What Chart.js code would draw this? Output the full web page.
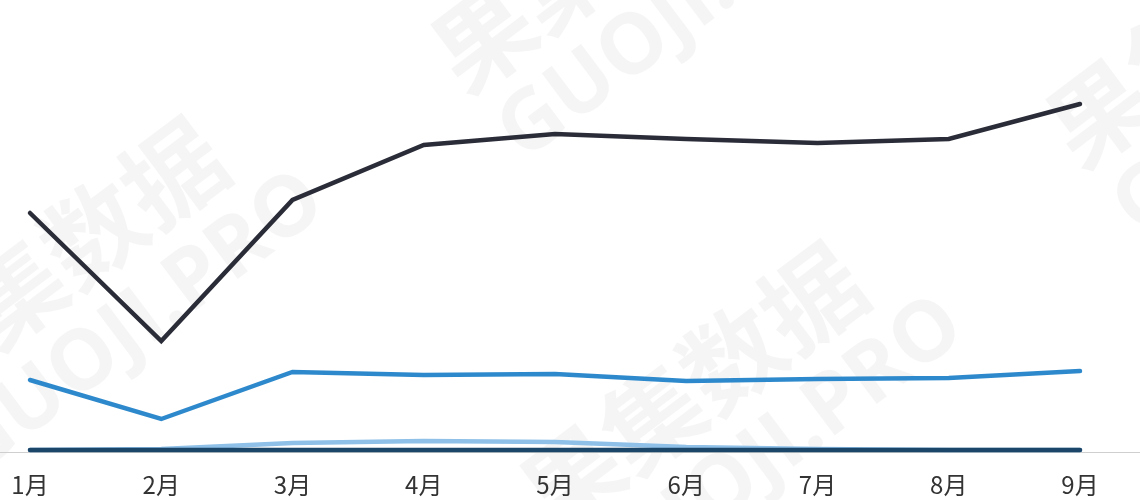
<!DOCTYPE html>
<html>
<head>
<meta charset="utf-8">
<script src="https://cdn.jsdelivr.net/npm/chart.js@4.4.0/dist/chart.umd.min.js"></script>
<style>
  html, body { margin: 0; padding: 0; background: #fff; }
  #wrap { width: 1140px; height: 500px; position: relative; }
</style>
</head>
<body>
<div id="wrap"><canvas id="myChart"></canvas></div>
<script>
// data
const months = ['1月', '2月', '3月', '4月', '5月', '6月', '7月', '8月', '9月'];
const seriesDark = [237, 109, 250, 305, 316, 311, 307, 311, 346];
const seriesBlue = [70, 31, 78, 75, 76, 69, 71, 72, 79];
const seriesLight = [0, 1, 7, 9, 8, 3, 1, 0, 0];
const seriesNavy = [0, 0, 0, 0, 0, 0, 0, 0, 0];

const watermarkLines = ['果集数据', 'GUOJI.PRO'];

// faint tiled watermark behind the lines
const watermark = {
    id: 'watermark',
    beforeDraw(chart) {
        const c = chart.ctx;
        const spots = [[53, 263], [603, -53], [692, 388], [1218, 22]];
        c.save();
        c.fillStyle = 'rgba(0, 0, 0, 0.04)';
        c.textAlign = 'center';
        c.textBaseline = 'middle';
        spots.forEach(function (p) {
            c.save();
            c.translate(p[0], p[1]);
            c.rotate(-37 * Math.PI / 180);
            c.font = 'bold 100px "Noto Sans CJK SC"';
            c.fillText(watermarkLines[0], 0, 0);
            c.font = 'bold 84px "Open Sans"';
            c.fillText(watermarkLines[1], 30, 100);
            c.restore();
        });
        c.restore();
    }
};

// thin grey baseline across the whole width
const baseline = {
    id: 'baseline',
    beforeDatasetsDraw(chart) {
        const c = chart.ctx;
        const y = chart.chartArea.bottom + 2.5;
        c.save();
        c.strokeStyle = '#cfcfcf';
        c.lineWidth = 1;
        c.beginPath();
        c.moveTo(0, y);
        c.lineTo(chart.width, y);
        c.stroke();
        c.restore();
    }
};

const ctx = document.getElementById('myChart').getContext('2d');
const chart = new Chart(ctx, {
    type: 'line',
    data: {
        labels: months,
        datasets: [
            { data: seriesDark, borderColor: '#2a2c38', order: 3 },
            { data: seriesBlue, borderColor: '#2e89cc', order: 2 },
            { data: seriesLight, borderColor: '#8ec0e8', order: 1 },
            { data: seriesNavy, borderColor: '#1b4569', order: 0 }
        ]
    },
    options: {
        responsive: true,
        maintainAspectRatio: false,
        animation: false,
        layout: { padding: { left: 30, right: 60, top: 0, bottom: 0 } },
        elements: {
            line: { borderWidth: 4.5, tension: 0, borderCapStyle: 'round', fill: false },
            point: { radius: 0, hoverRadius: 0 }
        },
        datasets: { line: { clip: false } },
        plugins: {
            legend: { display: false },
            tooltip: { enabled: false }
        },
        scales: {
            x: {
                offset: false,
                grid: { display: false, drawTicks: false },
                border: { display: false },
                ticks: {
                    color: '#333',
                    padding: 20,
                    maxRotation: 0,
                    font: { family: '"Noto Sans CJK SC"', size: 24 }
                },
                afterFit(scale) {
                    scale.height = 50;
                    scale.paddingLeft = 0;
                    scale.paddingRight = 0;
                }
            },
            y: {
                display: false,
                min: 0,
                max: 450
            }
        }
    },
    plugins: [watermark, baseline]
});
</script>
</body>
</html>
